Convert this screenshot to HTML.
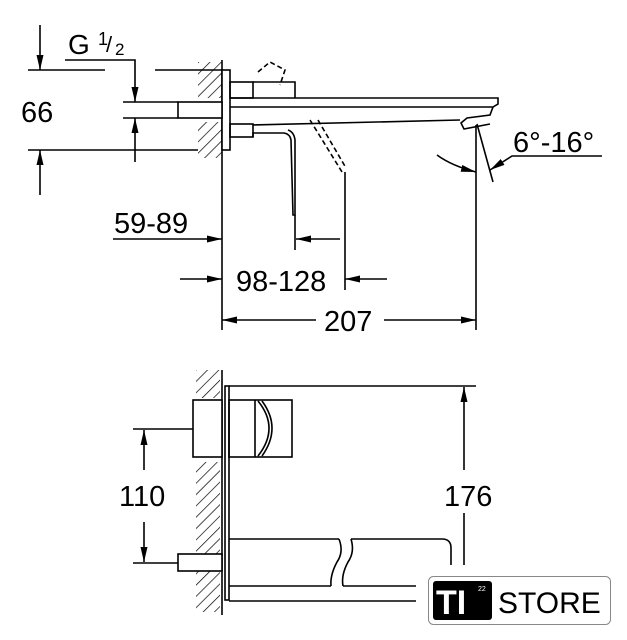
<!DOCTYPE html>
<html><head><style>
html,body{margin:0;padding:0;background:#fff;}
svg{display:block;font-family:"Liberation Sans",Arial,sans-serif;}
</style></head><body>
<svg width="627" height="640" viewBox="0 0 627 640" xmlns="http://www.w3.org/2000/svg">
<defs>
<pattern id="h" width="8" height="8" patternUnits="userSpaceOnUse" patternTransform="rotate(45)">
<line x1="0" y1="0" x2="0" y2="8" stroke="#000" stroke-width="1.4"/>
</pattern>
<marker id="a" markerWidth="15" markerHeight="7" refX="15" refY="3.5" orient="auto" markerUnits="userSpaceOnUse">
<path d="M0,0 L15,3.5 L0,7 Z" fill="#000"/>
</marker>
</defs>
<g stroke="#000" stroke-width="1.6" fill="none">
<!-- TOP VIEW -->
<rect x="198" y="62" width="24" height="36" fill="url(#h)" stroke="none"/>
<rect x="198" y="122" width="24" height="36" fill="url(#h)" stroke="none"/>
<line x1="222" y1="60" x2="222" y2="330"/>
<rect x="222" y="70" width="8" height="80" fill="#fff"/>
<rect x="178" y="102" width="44" height="16" fill="#fff"/>
<rect x="230" y="82" width="23" height="16"/>
<rect x="230" y="124" width="23" height="13"/>
<path d="M253,82 L295,82 L295,98"/>
<path d="M230,98 L498,98 L498,104 L493,107 L230,107"/>
<path d="M253,125 L460,120"/>
<path d="M493,107 L490,115 L467,118 L461,123 L464,129 L490,124"/>
<path d="M253,137 L253,133 L284,133 Q290,134 291,140 L293,215 L295,215 L295,140 Q294,132 288,130"/>
<path d="M258,72 L270,62 L285,70 L280,85" stroke-dasharray="5,3"/>
<path d="M310,120 L342,172 M318,120 L346,168" stroke-dasharray="5,3"/>
<!-- 66 -->
<line x1="28" y1="70" x2="105" y2="70"/>
<line x1="155" y1="70" x2="222" y2="70"/>
<line x1="28" y1="150" x2="198" y2="150"/>
<line x1="40" y1="25" x2="40" y2="70" marker-end="url(#a)"/>
<line x1="40" y1="195" x2="40" y2="150" marker-end="url(#a)"/>
<!-- G1/2 -->
<path d="M65,60 L135,60 L135,102" marker-end="url(#a)"/>
<line x1="135" y1="162" x2="135" y2="118" marker-end="url(#a)"/>
<line x1="123" y1="102" x2="178" y2="102"/>
<line x1="123" y1="118" x2="178" y2="118"/>
<!-- 59-89 -->
<line x1="113" y1="239" x2="222" y2="239" marker-end="url(#a)"/>
<line x1="295" y1="215" x2="295" y2="250"/>
<line x1="340" y1="239" x2="296" y2="239" marker-end="url(#a)"/>
<!-- 98-128 -->
<line x1="180" y1="279" x2="222" y2="279" marker-end="url(#a)"/>
<line x1="345" y1="172" x2="345" y2="290"/>
<line x1="387" y1="279" x2="345" y2="279" marker-end="url(#a)"/>
<!-- 207 -->
<line x1="316" y1="320" x2="222" y2="320" marker-end="url(#a)"/>
<line x1="384" y1="320" x2="476" y2="320" marker-end="url(#a)"/>
<line x1="476" y1="125" x2="476" y2="330"/>
<!-- angle -->
<line x1="477" y1="124" x2="493" y2="182"/>
<path d="M602,156 L512,156 L490,170" marker-end="url(#a)"/>
<path d="M437,155 Q452,166 476,172" marker-end="url(#a)"/>

<!-- BOTTOM VIEW -->
<rect x="196" y="370" width="24" height="28" fill="url(#h)" stroke="none"/>
<rect x="196" y="462" width="24" height="150" fill="url(#h)" stroke="none"/>
<line x1="222" y1="370" x2="222" y2="615"/>
<rect x="225" y="386" width="4" height="214" fill="#fff"/>
<line x1="229" y1="386" x2="476" y2="386"/>
<rect x="193" y="400" width="29" height="57" fill="#fff"/>
<rect x="229" y="400" width="63" height="57"/>
<path d="M255,400 L255,457 M258,401 Q280,428 258,456 M262,401 Q282,428 262,456"/>
<line x1="464" y1="470" x2="464" y2="387" marker-end="url(#a)"/>
<line x1="464" y1="513" x2="464" y2="565"/>
<line x1="133" y1="429" x2="193" y2="429"/>
<line x1="133" y1="563" x2="178" y2="563"/>
<line x1="144" y1="470" x2="144" y2="430" marker-end="url(#a)"/>
<line x1="144" y1="522" x2="144" y2="562" marker-end="url(#a)"/>
<rect x="178" y="554" width="44" height="17" fill="#fff"/>
<path d="M229,539 L339,539 M351,539 L442,539 Q451,539 451,548 L451,565"/>
<path d="M229,586 L331,586 M343,586 L416,586"/>
<line x1="229" y1="601" x2="416" y2="601"/>
<path d="M339,539 Q344,552 337,562 Q330,575 331,586 M351,539 Q355,552 348,562 Q341,575 343,586"/>
</g>
<g fill="#000" font-size="29">
<text x="21" y="122">66</text>
<text x="68" y="54" font-size="28">G</text>
<text x="98" y="45" font-size="18">1</text>
<text x="106" y="52" font-size="22">/</text>
<text x="115" y="55" font-size="17">2</text>
<text x="114" y="233">59-89</text>
<text x="236" y="291">98-128</text>
<text x="324" y="331">207</text>
<text x="513" y="152">6°-16°</text>
<text x="119" y="506">110</text>
<text x="444" y="506">176</text>
</g>
<!-- logo -->
<rect x="428.5" y="576.5" width="182" height="48" rx="5" fill="#fff" stroke="#888" stroke-width="1"/>
<rect x="433" y="581" width="59" height="39" rx="3" fill="#000"/>
<text x="436" y="614" font-size="34" font-weight="bold" fill="#fff">TI</text>
<text x="478" y="591" font-size="7" fill="#fff">22</text>
<text x="498" y="613" font-size="30" fill="#000">STORE</text>
</svg>
</body></html>
